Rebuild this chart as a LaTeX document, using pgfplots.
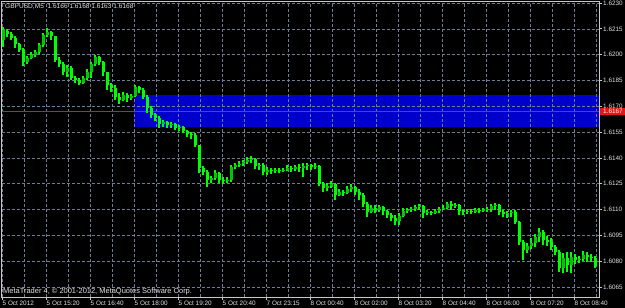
\documentclass[border=0pt]{standalone}
\usepackage{fontspec}
\setmainfont{Liberation Sans}
\usepackage{pgfplots}
\usepackage{pgfplotstable}
\pgfplotsset{compat=1.18}
\definecolor{mtgrid}{RGB}{110,125,145}
\definecolor{mtblue}{RGB}{0,0,205}
\definecolor{mtred}{RGB}{230,20,20}
\definecolor{mtlime}{RGB}{0,255,0}
\definecolor{mtgreen}{RGB}{0,200,0}
\definecolor{mtframe}{RGB}{200,200,200}
\definecolor{mttext}{RGB}{225,225,225}
\pagecolor{black}

\pgfplotstableread{
x o h l c
3 1.62085 1.62161 1.62044 1.62143
7 1.62137 1.62149 1.62102 1.62120
11 1.62120 1.62132 1.62085 1.62097
15 1.62097 1.62108 1.62039 1.62062
19 1.62062 1.62068 1.62015 1.62027
23 1.62027 1.62039 1.61934 1.61957
27 1.61957 1.61992 1.61946 1.61980
31 1.61980 1.62015 1.61975 1.61998
35 1.61998 1.62027 1.61986 1.62015
39 1.62015 1.62068 1.62004 1.62056
43 1.62056 1.62126 1.62044 1.62114
47 1.62114 1.62155 1.62102 1.62132
51 1.62132 1.62137 1.62085 1.62108
55 1.62108 1.62108 1.61957 1.61969
59 1.61969 1.61986 1.61928 1.61946
63 1.61946 1.61957 1.61882 1.61899
67 1.61899 1.61940 1.61870 1.61922
71 1.61922 1.61934 1.61853 1.61864
75 1.61864 1.61876 1.61835 1.61853
79 1.61853 1.61864 1.61824 1.61835
83 1.61835 1.61876 1.61829 1.61864
87 1.61864 1.61917 1.61853 1.61899
91 1.61899 1.61957 1.61864 1.61946
95 1.61946 1.61998 1.61934 1.61986
99 1.61986 1.61992 1.61940 1.61957
103 1.61957 1.61963 1.61876 1.61899
107 1.61899 1.61899 1.61795 1.61824
111 1.61824 1.61835 1.61783 1.61806
115 1.61806 1.61824 1.61736 1.61754
119 1.61754 1.61777 1.61713 1.61736
123 1.61736 1.61783 1.61731 1.61765
127 1.61765 1.61777 1.61725 1.61748
131 1.61748 1.61771 1.61736 1.61760
135 1.61760 1.61824 1.61754 1.61812
139 1.61812 1.61818 1.61777 1.61795
143 1.61795 1.61806 1.61742 1.61754
147 1.61754 1.61765 1.61661 1.61690
151 1.61690 1.61702 1.61632 1.61649
155 1.61649 1.61661 1.61614 1.61632
159 1.61632 1.61643 1.61574 1.61597
163 1.61597 1.61620 1.61580 1.61609
167 1.61609 1.61614 1.61574 1.61591
171 1.61591 1.61609 1.61574 1.61597
175 1.61597 1.61603 1.61562 1.61574
179 1.61574 1.61591 1.61556 1.61580
183 1.61580 1.61585 1.61545 1.61556
187 1.61556 1.61562 1.61521 1.61539
191 1.61539 1.61550 1.61510 1.61533
195 1.61533 1.61545 1.61463 1.61475
199 1.61475 1.61475 1.61312 1.61341
203 1.61341 1.61353 1.61301 1.61318
207 1.61318 1.61330 1.61231 1.61272
211 1.61272 1.61295 1.61254 1.61283
215 1.61283 1.61330 1.61272 1.61312
219 1.61312 1.61318 1.61254 1.61272
223 1.61272 1.61289 1.61248 1.61266
227 1.61266 1.61289 1.61254 1.61272
231 1.61272 1.61359 1.61260 1.61347
235 1.61347 1.61370 1.61336 1.61359
239 1.61359 1.61382 1.61347 1.61365
243 1.61365 1.61388 1.61353 1.61376
247 1.61376 1.61405 1.61365 1.61388
251 1.61388 1.61411 1.61370 1.61394
255 1.61394 1.61399 1.61336 1.61353
259 1.61353 1.61370 1.61330 1.61359
263 1.61359 1.61370 1.61301 1.61318
267 1.61318 1.61347 1.61301 1.61330
271 1.61330 1.61341 1.61307 1.61324
275 1.61324 1.61341 1.61312 1.61330
279 1.61330 1.61341 1.61312 1.61324
283 1.61324 1.61341 1.61318 1.61330
287 1.61330 1.61359 1.61324 1.61341
291 1.61341 1.61353 1.61318 1.61336
295 1.61336 1.61359 1.61324 1.61347
299 1.61347 1.61365 1.61318 1.61341
303 1.61341 1.61370 1.61289 1.61353
307 1.61353 1.61370 1.61330 1.61359
311 1.61359 1.61365 1.61330 1.61347
315 1.61347 1.61370 1.61336 1.61353
319 1.61353 1.61359 1.61237 1.61248
323 1.61248 1.61260 1.61202 1.61225
327 1.61225 1.61254 1.61208 1.61237
331 1.61237 1.61266 1.61225 1.61248
335 1.61248 1.61254 1.61155 1.61185
339 1.61185 1.61219 1.61179 1.61202
343 1.61202 1.61214 1.61179 1.61196
347 1.61196 1.61237 1.61190 1.61219
351 1.61219 1.61248 1.61202 1.61231
355 1.61231 1.61237 1.61185 1.61202
359 1.61202 1.61219 1.61155 1.61185
363 1.61185 1.61196 1.61115 1.61132
367 1.61132 1.61144 1.61057 1.61086
371 1.61086 1.61126 1.61080 1.61109
375 1.61109 1.61126 1.61080 1.61097
379 1.61097 1.61126 1.61086 1.61115
383 1.61115 1.61121 1.61068 1.61092
387 1.61092 1.61097 1.61051 1.61068
391 1.61068 1.61080 1.61033 1.61051
395 1.61051 1.61068 1.61010 1.61033
399 1.61033 1.61080 1.61010 1.61063
403 1.61063 1.61109 1.61057 1.61092
407 1.61092 1.61109 1.61080 1.61097
411 1.61097 1.61115 1.61086 1.61103
415 1.61103 1.61126 1.61092 1.61115
419 1.61115 1.61132 1.61097 1.61121
423 1.61121 1.61126 1.61051 1.61080
427 1.61080 1.61097 1.61068 1.61086
431 1.61086 1.61092 1.61068 1.61080
435 1.61080 1.61103 1.61074 1.61092
439 1.61092 1.61115 1.61080 1.61103
443 1.61103 1.61126 1.61097 1.61109
447 1.61109 1.61144 1.61103 1.61132
451 1.61132 1.61150 1.61097 1.61121
455 1.61121 1.61138 1.61109 1.61126
459 1.61126 1.61132 1.61068 1.61092
463 1.61092 1.61097 1.61068 1.61086
467 1.61086 1.61103 1.61074 1.61092
471 1.61092 1.61103 1.61074 1.61086
475 1.61086 1.61109 1.61080 1.61097
479 1.61097 1.61109 1.61080 1.61092
483 1.61092 1.61109 1.61086 1.61097
487 1.61097 1.61115 1.61086 1.61103
491 1.61103 1.61132 1.61086 1.61121
495 1.61121 1.61138 1.61097 1.61126
499 1.61126 1.61132 1.61068 1.61086
503 1.61086 1.61097 1.61057 1.61074
507 1.61074 1.61092 1.61051 1.61080
511 1.61080 1.61097 1.61057 1.61086
515 1.61086 1.61097 1.61016 1.61028
519 1.61028 1.61033 1.60894 1.60911
523 1.60911 1.60923 1.60807 1.60865
527 1.60865 1.60906 1.60848 1.60888
531 1.60888 1.60935 1.60871 1.60906
535 1.60906 1.60958 1.60882 1.60941
539 1.60941 1.60993 1.60911 1.60970
543 1.60970 1.60981 1.60894 1.60923
547 1.60923 1.60946 1.60888 1.60911
551 1.60911 1.60935 1.60865 1.60882
555 1.60882 1.60894 1.60836 1.60853
559 1.60853 1.60865 1.60737 1.60760
563 1.60760 1.60848 1.60731 1.60818
567 1.60818 1.60853 1.60737 1.60778
571 1.60778 1.60853 1.60731 1.60824
575 1.60824 1.60842 1.60784 1.60807
579 1.60807 1.60830 1.60789 1.60813
583 1.60813 1.60859 1.60801 1.60836
587 1.60836 1.60853 1.60795 1.60824
591 1.60824 1.60842 1.60795 1.60818
595 1.60818 1.60830 1.60760 1.60772
}\candles

\begin{document}
\begin{tikzpicture}
\begin{axis}[
  set layers,
  at={(1.5bp,11bp)}, anchor=south west,
  scale only axis, width=597.5bp, height=295.5bp,
  xmin=1.5, xmax=599, ymin=1.605919, ymax=1.623087,
  axis line style={draw=mtframe, line width=0.8bp},
  xtick={2,46,90,134,178,222,266,310,354,398,442,486,530,574},
  xticklabels={5 Oct 2012,5 Oct 15:20,5 Oct 16:40,5 Oct 18:00,5 Oct 19:20,5 Oct 20:40,7 Oct 23:15,8 Oct 00:40,8 Oct 02:00,8 Oct 03:20,8 Oct 04:40,8 Oct 06:00,8 Oct 07:20,8 Oct 08:40},
  minor xtick={24,68,112,156,200,244,288,332,376,420,464,508,552,596},
  ytick={1.6065,1.6080,1.6095,1.6110,1.6125,1.6140,1.6155,1.6170,1.6185,1.6200,1.6215,1.6230},
  yticklabels={1.6065,1.6080,1.6095,1.6110,1.6125,1.6140,1.6155,1.6170,1.6185,1.6200,1.6215,1.6230},
  xtick pos=bottom, ytick pos=right, yticklabel pos=right,
  tick align=outside,
  major tick length=3bp, minor tick length=0pt,
  tick style={draw=mtframe, line width=0.8bp},
  grid=both,
  major grid style={draw=mtgrid, dash pattern=on 3bp off 2bp, line width=0.6bp},
  minor grid style={draw=mtgrid, dash pattern=on 3bp off 2bp, line width=0.6bp},
  tick label style={font=\fontsize{6.4}{7}\selectfont, text=mttext},
  xticklabel style={anchor=north west, inner sep=0pt, xshift=0.5bp, yshift=-1bp},
  yticklabel style={anchor=west, inner sep=0pt, xshift=1bp},
  extra y ticks={1.6167}, extra y tick labels={1.6167},
  extra y tick style={major grid style={solid, draw=mtred, line width=0.8bp},
    major tick length=0pt,
    yticklabel style={fill=mtred, text=white, inner xsep=3bp, inner ysep=1bp}},
]
\addplot[on layer=axis background, fill=mtblue, draw=none]
  coordinates {(133.5,1.61765) (599,1.61765) (599,1.61580) (133.5,1.61580)} -- cycle;
\addplot[draw=mtlime, line width=1.1bp, -, quiver={u=0, v=\thisrow{h}-\thisrow{l}}]
  table[x=x, y=l] {\candles};
\addplot[draw=mtgreen, line width=3bp, line cap=butt, -, quiver={u=0, v={max(\thisrow{c}-\thisrow{o},0)}}]
  table[x=x, y=o] {\candles};
\addplot[draw=mtlime, line width=3bp, line cap=butt, -, quiver={u=0, v={max(\thisrow{o}-\thisrow{c},0)}}]
  table[x=x, y=c] {\candles};
\node[anchor=north west, inner sep=0pt, font=\fontsize{6.6}{7}\selectfont, text=mttext,
  xshift=3.5bp, yshift=-2bp] at (rel axis cs:0,1) {GBPUSD,M5\ \ 1.6166 1.6168 1.6163 1.6168};
\node[anchor=base west, inner sep=0pt, font=\fontsize{7.5}{8}\selectfont, text=mttext,
  xshift=1.5bp, yshift=3.5bp] at (rel axis cs:0,0) {MetaTrader 4, © 2001-2012, MetaQuotes Software Corp.};
\end{axis}
\pgfresetboundingbox
\useasboundingbox (0,0) rectangle (625bp,308bp);
\end{tikzpicture}
\end{document}
